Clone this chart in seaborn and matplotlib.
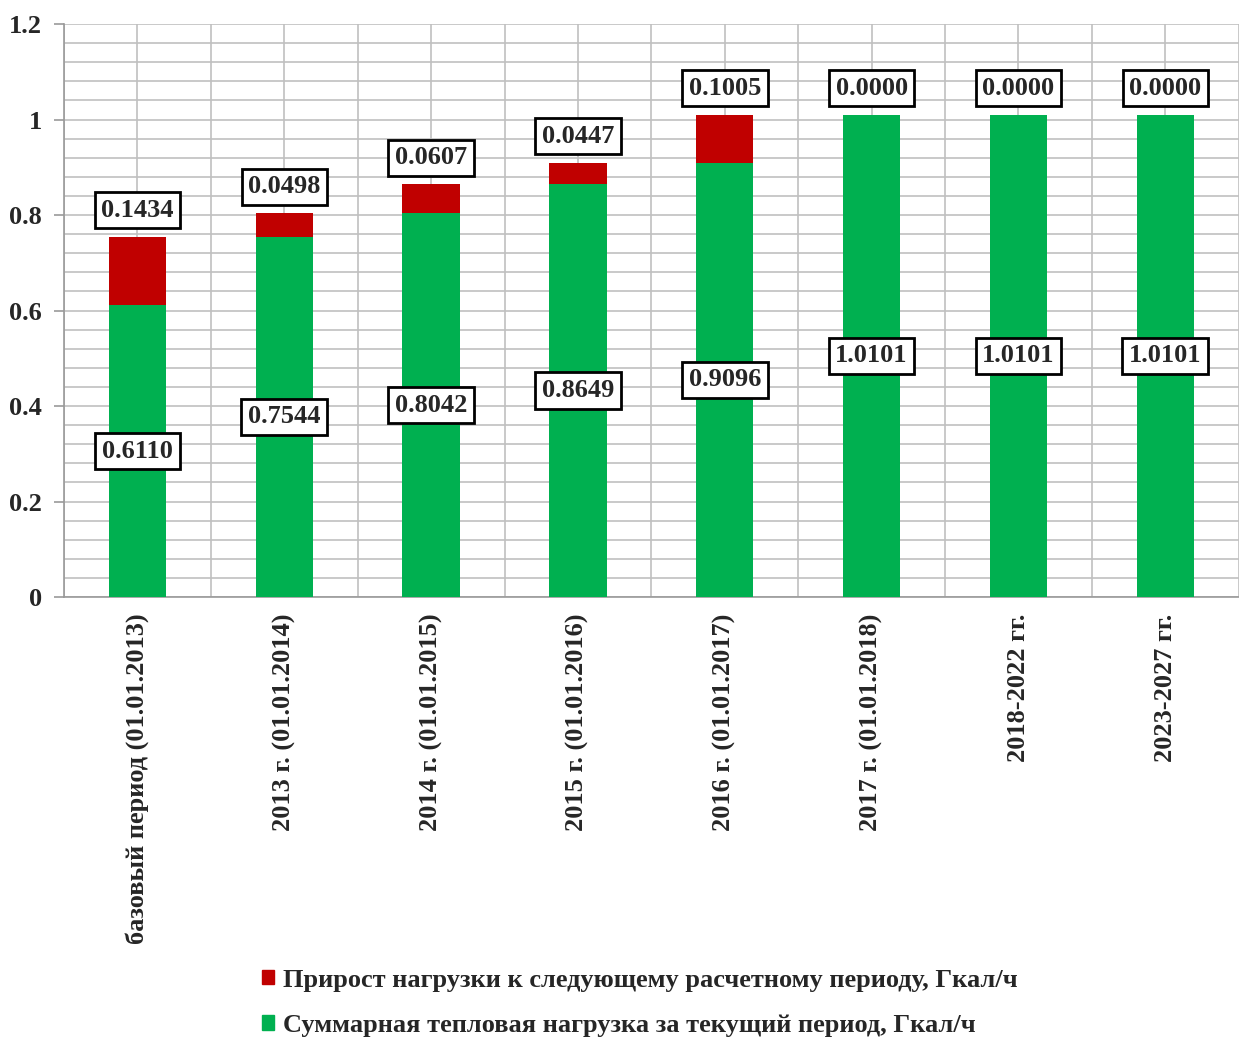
import matplotlib.pyplot as plt
import matplotlib.patches as mpatches
from matplotlib.ticker import MultipleLocator, FixedLocator
import pandas as pd
import seaborn as sns

periods = ["базовый период (01.01.2013)", "2013 г. (01.01.2014)", "2014 г. (01.01.2015)",
           "2015 г. (01.01.2016)", "2016 г. (01.01.2017)", "2017 г. (01.01.2018)",
           "2018-2022 гг.", "2023-2027 гг."]
total_load = [0.6110, 0.7544, 0.8042, 0.8649, 0.9096, 1.0101, 1.0101, 1.0101]
growth = [0.1434, 0.0498, 0.0607, 0.0447, 0.1005, 0.0000, 0.0000, 0.0000]

green = "#00B050"
red = "#C00000"

df = pd.DataFrame({"period": periods, "base": total_load, "growth": growth})
df["top"] = df["base"] + df["growth"]

sns.set_style("white")
plt.rcParams["font.family"] = ["Liberation Serif", "DejaVu Serif"]
plt.rcParams["font.weight"] = "bold"

fig = plt.figure(figsize=(12.39, 10.39), dpi=100)
ax = fig.add_axes([0.0517, 0.4254, 0.948, 0.5515])

sns.barplot(data=df, x="period", y="top", color=red, saturation=1, width=0.39,
            linewidth=0, ax=ax, zorder=3)
sns.barplot(data=df, x="period", y="base", color=green, saturation=1, width=0.39,
            linewidth=0, ax=ax, zorder=4)

ax.set_xlim(-0.5, len(periods) - 0.5)
ax.set_ylim(0, 1.2)
ax.yaxis.set_major_locator(MultipleLocator(0.2))
ax.yaxis.set_minor_locator(MultipleLocator(0.04))
ax.xaxis.set_minor_locator(FixedLocator([i - 0.5 for i in range(len(periods) + 1)]))
ax.grid(True, which="both", color="#c0c0c0", linewidth=1.2, zorder=0)
ax.set_axisbelow(True)
for s in ["top", "right"]:
    ax.spines[s].set_visible(False)
for s in ["left", "bottom"]:
    ax.spines[s].set_color("#999999")
    ax.spines[s].set_linewidth(1.2)

ax.set_yticks([0, 0.2, 0.4, 0.6, 0.8, 1.0, 1.2])
ax.set_yticklabels(["0", "0.2", "0.4", "0.6", "0.8", "1", "1.2"], fontsize=19, fontweight="bold")
ax.set_xticks(range(len(periods)))
ax.set_xticklabels(periods, rotation=90, fontsize=19, fontweight="bold", va="top", ha="center")
ax.tick_params(axis="x", which="major", length=0, pad=12)
ax.tick_params(axis="x", which="minor", length=10, color="#999999", width=1.2)
ax.tick_params(axis="y", which="major", length=7, color="#999999", width=1.2, left=True, pad=9)
ax.tick_params(axis="y", which="minor", length=0)
ax.set_xlabel("")
ax.set_ylabel("")

box = dict(boxstyle="square,pad=0.25", facecolor="white", edgecolor="black", linewidth=2)
for i, row in df.iterrows():
    ax.annotate(f"{row['base']:.4f}", (i, row["base"] / 2), ha="center", va="center",
                fontsize=19, fontweight="bold", bbox=box, zorder=6)
    ax.annotate(f"{row['growth']:.4f}", (i, row["top"]), xytext=(0, 19), textcoords="offset points",
                ha="center", va="center", fontsize=19, fontweight="bold", bbox=box, zorder=6)

handles = [mpatches.Patch(color=red, label="Прирост нагрузки к следующему расчетному периоду, Гкал/ч"),
           mpatches.Patch(color=green, label="Суммарная тепловая нагрузка за текущий период, Гкал/ч")]
fig.legend(handles=handles, loc="upper left", bbox_to_anchor=(0.203, 0.078), frameon=False,
           prop={"size": 19, "weight": "bold"}, handlelength=0.45, handleheight=0.45,
           handletextpad=0.35, labelspacing=0.85, borderaxespad=0)

fig.savefig("out.png", dpi=100)
